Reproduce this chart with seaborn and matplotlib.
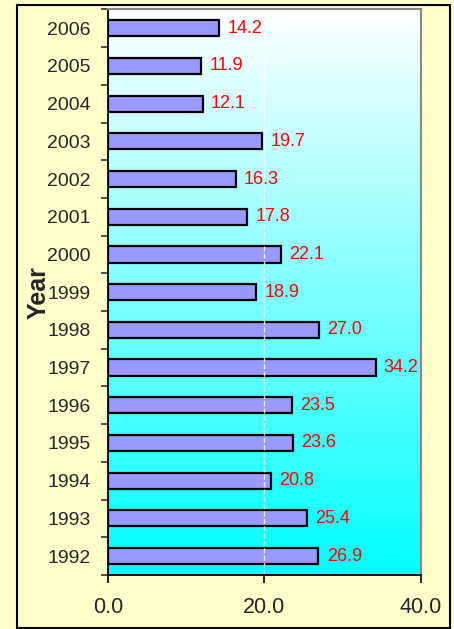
import matplotlib
matplotlib.use("Agg")
import matplotlib.pyplot as plt
import matplotlib.patches as mpatches
from matplotlib.colors import LinearSegmentedColormap
import numpy as np
import seaborn as sns

sns.set_style("white")
plt.rcParams['font.family'] = ['Liberation Sans', 'DejaVu Sans']

## Data
years = ['2006', '2005', '2004', '2003', '2002', '2001', '2000', '1999',
         '1998', '1997', '1996', '1995', '1994', '1993', '1992']
values = [14.2, 11.9, 12.1, 19.7, 16.3, 17.8, 22.1, 18.9,
          27.0, 34.2, 23.5, 23.6, 20.8, 25.4, 26.9]
xticks = [0, 20, 40]

fig = plt.figure(figsize=(4.54, 6.29), dpi=100)
fig.patch.set_facecolor('#FFFFCC')
ax = fig.add_axes([0.238, 0.086, 0.689, 0.899])

## Plot
sns.barplot(x=values, y=years, order=years, orient='h', color='#9999FF',
            edgecolor='black', linewidth=1.6, width=0.43, saturation=1, ax=ax)

## gradient background white -> cyan
cmap = LinearSegmentedColormap.from_list('wc', ['#FFFFFF', '#00FFFF'])
grad = np.linspace(0, 1, 256).reshape(-1, 1)
ax.imshow(grad, cmap=cmap, aspect='auto', extent=[0, 40, len(years) - 0.5, -0.5], zorder=0)
ax.set_xlim(0, 40)
ax.set_ylim(len(years) - 0.5, -0.5)

## grid line
ax.axvline(20, color='white', linestyle='--', linewidth=1, alpha=0.85, zorder=1)

## labels
ax.bar_label(ax.containers[0], fmt='%.1f', padding=6, color='#FF0000', fontsize=13)

## ticks
ax.set_xticks(xticks)
ax.set_xticklabels(['%.1f' % t for t in xticks], fontsize=15.5)
ax.tick_params(axis='x', direction='out', length=6, width=1.2, color='black', pad=10, bottom=True)
ax.tick_params(axis='y', which='major', length=0, labelsize=14, pad=12.5)
ax.set_yticks(np.arange(-0.5, len(years), 1), minor=True)
ax.tick_params(axis='y', which='minor', direction='out', length=5, width=1.2, color='#333333', left=True)
ax.set_xlabel('')
ax.set_ylabel('Year', fontsize=18, fontweight='bold')
ax.yaxis.set_label_coords(-0.182, 0.5)

## spines
ax.spines['left'].set_color('black')
ax.spines['bottom'].set_color('black')
ax.spines['left'].set_linewidth(1.3)
ax.spines['bottom'].set_linewidth(1.3)
ax.spines['top'].set_color('#888888')
ax.spines['right'].set_color('#888888')
ax.spines['top'].set_linewidth(1.5)
ax.spines['right'].set_linewidth(1.5)

## outer frame
frame = mpatches.Rectangle((17 / 454, 1 / 629), 433 / 454, 623 / 629, transform=fig.transFigure,
                           fill=False, edgecolor='black', linewidth=1.5)
fig.patches.append(frame)

fig.savefig('out.png', dpi=100, facecolor=fig.get_facecolor())
